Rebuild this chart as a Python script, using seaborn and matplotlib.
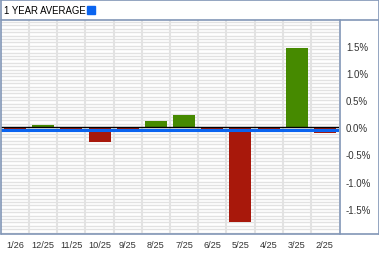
import matplotlib
matplotlib.use("Agg")
import matplotlib.pyplot as plt
from matplotlib.ticker import MultipleLocator, FixedLocator
from matplotlib.lines import Line2D
from matplotlib.patches import Rectangle
import seaborn as sns
import pandas as pd

months = ["1/26", "12/25", "11/25", "10/25", "9/25", "8/25", "7/25",
          "6/25", "5/25", "4/25", "3/25", "2/25"]
values = [-0.035, 0.04, -0.09, -0.27, -0.04, 0.11, 0.22,
          -0.04, -1.75, -0.04, 1.455, -0.11]
average = -0.05
title = "1 YEAR AVERAGE"
ytick_vals = [-1.5, -1.0, -0.5, 0.0, 0.5, 1.0, 1.5]

GREEN = "#468a00"
RED = "#a8180b"
BLUE = "#0a64f0"
FRAME = "#8196b6"
GRID = "#e2e2e2"

sns.set_theme(style="white")
plt.rcParams["font.family"] = ["Liberation Sans", "DejaVu Sans"]

W, H = 379, 255
fig = plt.figure(figsize=(W / 100, H / 100), dpi=100)
fig.patch.set_facecolor("white")

# axes in pixel coords: x 1..339, y 21..235 (from top)
ax = fig.add_axes([1 / W, (H - 235) / H, (339 - 1) / W, (235 - 21) / H])

df = pd.DataFrame({"month": months, "value": values,
                   "sign": ["pos" if v >= 0 else "neg" for v in values]})
sns.barplot(data=df, x="month", y="value", hue="sign",
            palette={"pos": GREEN, "neg": RED}, dodge=False,
            width=0.78, legend=False, ax=ax, saturation=1, zorder=3,
            linewidth=0, edgecolor="none")

ax.set_xlim(-0.5, len(months) - 0.5)
ax.set_ylim(-1.965, 1.975)

# horizontal minor grid
ax.yaxis.set_minor_locator(MultipleLocator(0.0625))
ax.yaxis.set_major_locator(FixedLocator(ytick_vals))
ax.grid(which="minor", axis="y", color=GRID, lw=1.0, zorder=0)
ax.grid(which="major", axis="y", color=GRID, lw=1.0, zorder=0)
ax.grid(which="both", axis="x", visible=False)
# vertical separators between categories
for i in range(len(months) - 1):
    ax.axvline(i + 0.5, color=GRID, lw=1.5, zorder=1)
ax.set_axisbelow(True)

ax.axhline(0, color="black", lw=1.0, zorder=4)
ax.axhline(average, color=BLUE, lw=2.2, zorder=5)

ax.yaxis.tick_right()
ax.set_yticklabels([f"{v:.1f}%" for v in ytick_vals])
ax.tick_params(axis="y", which="both", length=0, pad=5, labelsize=7, labelcolor="#333333")
ax.tick_params(axis="x", length=0, pad=4, labelsize=6.6, labelcolor="#333333")
ax.set_xlabel("")
ax.set_ylabel("")
for s in ax.spines.values():
    s.set_visible(False)

# frame lines in figure pixel coords
def fx(x):
    return x / W

def fy(y):
    return (H - y) / H

lines = [
    ((0.5, 0.5), (0.5, 235)),      # left
    ((0.5, 378.5), (0.5, 0.5)),    # top
    ((378.5, 378.5), (0.5, 235)),  # right
    ((0.5, 378.5), (235, 235)),    # bottom
    ((0.5, 378.5), (20.5, 20.5)),  # title separator
    ((339.5, 339.5), (20.5, 235)), # plot right
]
for (x0, x1), (y0, y1) in lines:
    fig.add_artist(Line2D([fx(x0), fx(x1)], [fy(y0), fy(y1)],
                          color=FRAME, lw=1.2))

fig.text(fx(4), fy(11), title, fontsize=6.9, color="black",
         va="center", ha="left")
fig.add_artist(Rectangle((fx(87), fy(15)), 8 / W, 8 / H,
                         color=BLUE, transform=fig.transFigure))

fig.savefig("out.png", dpi=100)
